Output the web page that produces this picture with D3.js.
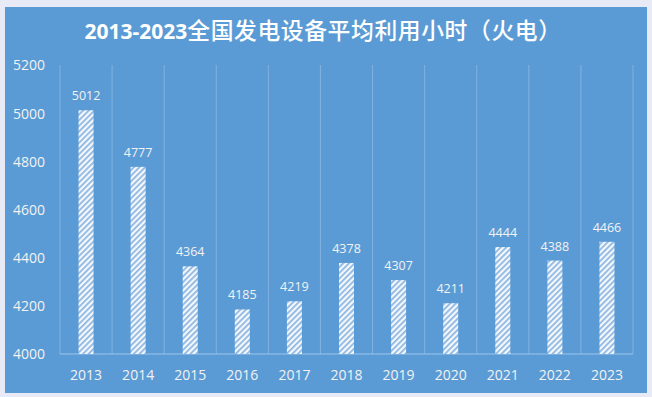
<!DOCTYPE html>
<html><head><meta charset="utf-8">
<script src="https://cdn.jsdelivr.net/npm/d3@7"></script>
<style>html,body{margin:0;padding:0;background:#e8eaf6;}svg{display:block;}</style>
</head><body>
<script>
const years = ["2013","2014","2015","2016","2017","2018","2019","2020","2021","2022","2023"];
const hours = [5012,4777,4364,4185,4219,4378,4307,4211,4444,4388,4466];
const yTicks = [4000,4200,4400,4600,4800,5000,5200];
const titleNum = "2013-2023";
const titleCJK = "全国发电设备平均利用小时（火电）";

const W = 652, H = 397;
const svg = d3.select("body").append("svg").attr("width", W).attr("height", H);

const defs = svg.append("defs");
const pat = defs.append("pattern").attr("id","hatch").attr("patternUnits","userSpaceOnUse")
  .attr("width",4).attr("height",4).attr("patternTransform","rotate(45)");
pat.append("rect").attr("width",4).attr("height",4).attr("fill","#f4f8fc");
pat.append("rect").attr("width",1.7).attr("height",4).attr("fill","#8ab4e0");

svg.append("rect").attr("x",5).attr("y",7).attr("width",642).attr("height",386).attr("fill","#5b9bd5");

const m = {l:60, r:633, t:65, b:354};
const x = d3.scaleBand().domain(years).range([m.l, m.r]).paddingInner(0).paddingOuter(0);
const y = d3.scaleLinear().domain([4000,5200]).range([m.b, m.t]);

// vertical gridlines at band boundaries
const bounds = years.map(d => x(d)).concat([m.r]);
svg.append("g").selectAll("line").data(bounds).join("line")
  .attr("x1", d => d).attr("x2", d => d).attr("y1", m.t).attr("y2", m.b)
  .attr("stroke","#82b1df").attr("stroke-width",1);

// bottom axis line
svg.append("line").attr("x1",m.l).attr("x2",m.r).attr("y1",m.b).attr("y2",m.b)
  .attr("stroke","#9cc4ea").attr("stroke-width",1);

// bars
const bw = 15;
svg.append("g").selectAll("rect").data(hours).join("rect")
  .attr("x",(d,i) => x(years[i]) + x.bandwidth()/2 - bw/2)
  .attr("y", d => y(d)).attr("width", bw).attr("height", d => m.b - y(d))
  .attr("fill","url(#hatch)");

// value labels
svg.append("g").selectAll("text").data(hours).join("text")
  .attr("x",(d,i) => x(years[i]) + x.bandwidth()/2)
  .attr("y", d => y(d) - 10)
  .attr("text-anchor","middle").attr("fill","#f2f2f2")
  .attr("font-family","'Open Sans', 'Noto Sans', sans-serif").attr("font-size",12.5)
  .text(d => d);

// y axis
const yAxis = d3.axisLeft(y).tickValues(yTicks).tickSize(0).tickPadding(0).tickFormat(d3.format("d"));
const gy = svg.append("g").attr("transform","translate(45,0)").call(yAxis);
gy.select(".domain").remove();
gy.selectAll("text").attr("fill","#f2f2f2").attr("font-size",14)
  .attr("font-family","'Open Sans', 'Noto Sans', sans-serif").attr("dy","0.35em");

// x axis
const xAxis = d3.axisBottom(x).tickSize(0).tickPadding(0);
const gx = svg.append("g").attr("transform",`translate(0,${m.b})`).call(xAxis);
gx.select(".domain").remove();
gx.selectAll("text").attr("fill","#f2f2f2").attr("font-size",14)
  .attr("font-family","'Open Sans', 'Noto Sans', sans-serif").attr("y",21).attr("dy","0.35em");

// title
const t = svg.append("text").attr("x",323).attr("y",39).attr("text-anchor","middle").attr("fill","#ffffff");
t.append("tspan").attr("font-family","'Noto Sans', sans-serif").attr("font-weight","bold").attr("font-size",21).text(titleNum);
t.append("tspan").attr("font-family","'Noto Sans CJK SC', sans-serif").attr("font-weight",500)
  .attr("font-size",22.8).attr("letter-spacing","0.6px").text(titleCJK);
</script>
</body></html>
